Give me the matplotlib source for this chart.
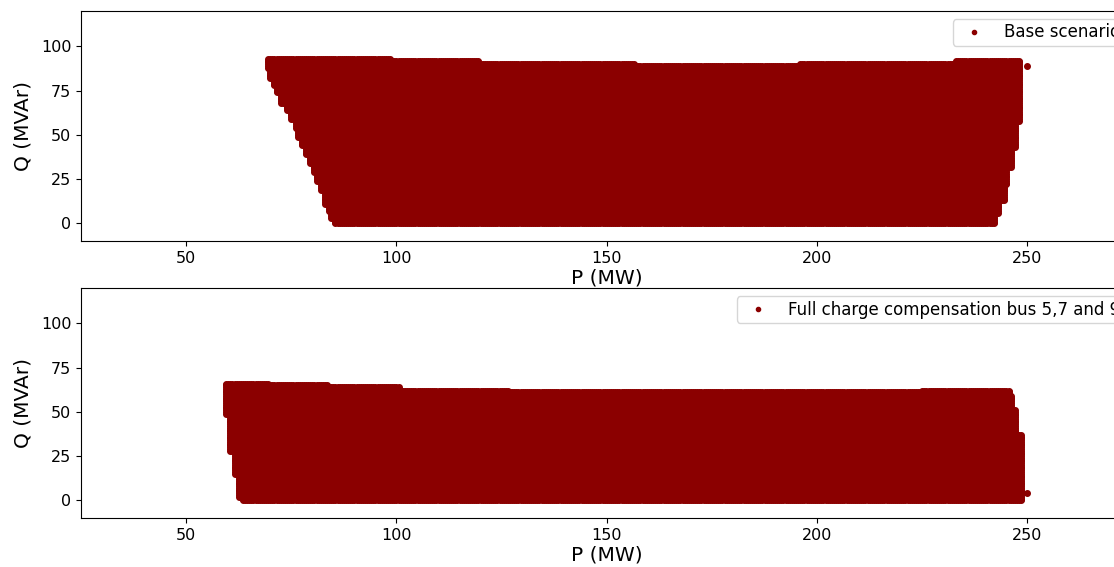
import numpy as np
import matplotlib
matplotlib.use('Agg')
import matplotlib.pyplot as plt

# Feasible P-Q region.
# Left edge: (Q where band starts, minimum P in that band)
base_left_q = [0, 3, 7, 11, 19, 24, 29, 34, 39, 44, 49, 54, 59, 64, 68, 74, 78, 82, 88]
base_left_p = [85.2, 84.4, 83.8, 82.9, 81.9, 81.0, 80.1, 79.2, 78.3, 77.4, 76.5,
               75.6, 74.7, 73.6, 72.4, 71.3, 70.6, 70.0, 69.2]
# Right edge: (Q where band starts, maximum P in that band)
base_right_q = [0, 6, 13, 22, 32, 43, 58]
base_right_p = [242.2, 243.1, 244.5, 245.2, 246.4, 247.1, 248.3]
# Top edge: (P where band starts, maximum Q in that band)
base_top_p = [50, 99, 119.6, 157, 196, 233]
base_top_q = [93, 92, 90, 89, 90, 92]
base_extra = (250, 89)

comp_left_q = [0, 2, 15, 28, 49]
comp_left_p = [63.4, 62.2, 61.2, 60.2, 59.4]
comp_right_q = [0, 38, 52, 60]
comp_right_p = [248.8, 247.4, 246.4, 245.7]
comp_top_p = [50, 69.7, 83.7, 101, 126.7, 225]
comp_top_q = [66, 65, 64, 62, 61, 62]
comp_extra = (250, 4)

labels = ['Base scenario', 'Full charge compensation bus 5,7 and 9']


def band_value(x, starts, values):
    idx = np.searchsorted(starts, x, side='right') - 1
    return np.array(values)[idx]


def region_points(left_q, left_p, right_q, right_p, top_p, top_q, extra):
    pp, qq = np.meshgrid(np.arange(50, 251, 0.5), np.arange(0, 100, 1.0))
    pp, qq = pp.ravel(), qq.ravel()
    keep = ((pp >= band_value(qq, left_q, left_p))
            & (pp <= band_value(qq, right_q, right_p))
            & (qq <= band_value(pp, top_p, top_q)))
    p = np.append(pp[keep], extra[0])
    q = np.append(qq[keep], extra[1])
    return p, q


regions = [
    region_points(base_left_q, base_left_p, base_right_q, base_right_p,
                  base_top_p, base_top_q, base_extra),
    region_points(comp_left_q, comp_left_p, comp_right_q, comp_right_p,
                  comp_top_p, comp_top_q, comp_extra),
]

fig = plt.figure(figsize=(11.14, 5.67), dpi=100)
# The original picture is cropped on the right, so the axes run past the edge.
positions = [[0.0727, 0.575, 0.944, 0.4056], [0.0727, 0.0864, 0.944, 0.4056]]

for pos, (p, q), label in zip(positions, regions, labels):
    ax = fig.add_axes(pos)
    ax.plot(p, q, '.', color='darkred', markersize=8, label=label)
    ax.set_xlim(25, 275)
    ax.set_ylim(-10, 120)
    ax.set_yticks([0, 25, 50, 75, 100])
    ax.tick_params(labelsize=11.5)
    ax.set_xlabel('P (MW)', fontsize=14.5, labelpad=2)
    ax.set_ylabel('Q (MVAr)', fontsize=14.5, labelpad=6)
    ax.legend(loc='upper right', fontsize=12, markerscale=0.75, borderpad=0.25)

fig.savefig('out.png', dpi=100)
